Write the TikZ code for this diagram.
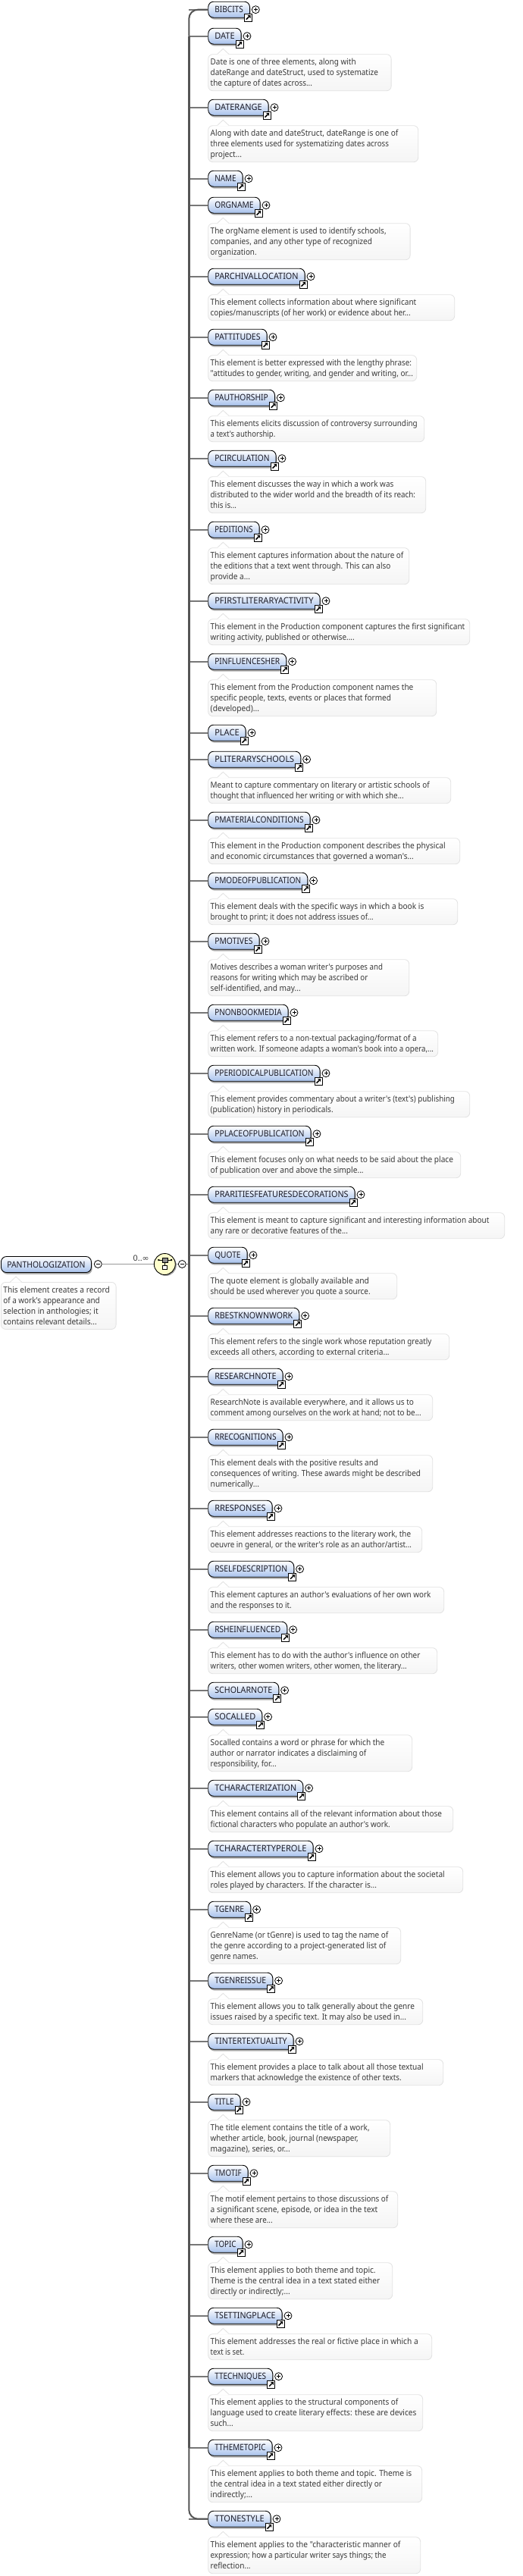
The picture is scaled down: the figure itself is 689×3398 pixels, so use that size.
\documentclass[tikz,border=0pt]{standalone}
\usepackage{fontspec}
\usetikzlibrary{shadows,calc}
\newfontfamily\labelfont{Noto Sans}
\newfontfamily\symfont{DejaVu Sans}
\definecolor{trunkc}{HTML}{555555}
\definecolor{stubc}{HTML}{777777}
\definecolor{boxblue}{HTML}{A8C2EC}
\definecolor{noteline}{HTML}{E2E2E2}
\definecolor{notefill}{HTML}{F5F5F5}
\definecolor{notetext}{HTML}{3A3A3A}
\definecolor{labeltext}{HTML}{1C1C28}
\definecolor{seqfill}{HTML}{FFFFCC}
\tikzset{
  elembox/.style={rectangle, rounded corners=7pt, draw=black, line width=.9pt,
    top color=white, bottom color=boxblue, minimum height=21pt, inner sep=0pt,
    text height=8.3pt, text depth=0pt, text=labeltext,
    font=\labelfont\fontsize{11.5}{14}\selectfont,
    drop shadow={shadow xshift=1.2pt, shadow yshift=-2.4pt, fill=black!55, opacity=.6}},
  notebox/.style={rectangle, rounded corners=6pt, draw=noteline, line width=.8pt,
    top color=white, bottom color=notefill, inner ysep=0pt, inner xsep=3pt, anchor=north west,
    text=notetext, font=\labelfont\fontsize{11}{14}\selectfont},
  linkicon/.style={rectangle, draw=black, fill=white, line width=.9pt, minimum size=10pt, inner sep=0pt,
    path picture={\begin{scope}[shift={(path picture bounding box.center)}]
      \draw[black, line width=1.5pt] (-2.5pt,-2.5pt) -- (1pt,1pt);
      \fill[black] (3.2pt,3.2pt) -- (3.2pt,-.8pt) -- (-.8pt,3.2pt) -- cycle;
    \end{scope}}},
  roundmark/.style={circle, draw=black, fill=white, line width=.8pt, minimum size=10pt, inner sep=0pt},
  plusmark/.style={roundmark,
    path picture={\begin{scope}[shift={(path picture bounding box.center)}]
      \draw[black, line width=.7pt] (-2.5pt,0pt) -- (2.5pt,0pt) (0pt,-2.5pt) -- (0pt,2.5pt);
    \end{scope}}},
  minusmark/.style={roundmark,
    path picture={\begin{scope}[shift={(path picture bounding box.center)}]
      \draw[black, line width=.7pt] (-2.5pt,0pt) -- (2.5pt,0pt);
    \end{scope}}},
  stub/.style={draw=stubc, line width=1.8pt},
  trunkline/.style={draw=trunkc, line width=3pt},
  trunkend/.style={draw=trunkc, line width=2pt, rounded corners=12pt},
  thinlink/.style={draw=black!40, line width=.7pt},
  seqbox/.style={circle, draw=black, fill=seqfill, line width=.9pt, minimum size=28pt, inner sep=0pt,
    drop shadow={shadow xshift=1.5pt, shadow yshift=-1.5pt, fill=black!60, opacity=.6}}
}
\newcommand\ntline[2]{\pgfmathsetmacro\lw{(#2-142)/3}\hbox{\vrule height 10pt depth 4pt width 0pt\resizebox{\lw pt}{\height}{#1}}}
\newcommand\elem[4]{%
  \pgfmathsetmacro\bw{#3-274.3}\pgfmathsetmacro\tw{\bw-17}%
  \node[elembox, minimum width=\bw pt, anchor=west] (#1) at (274.3,#4) {\resizebox{\tw pt}{\height}{#2}};
  \draw[stub] (trunk|-#1.west) -- (#1.west);
  \node[linkicon] (#1i) at ($(#3-1.7,#4+10.5)$) {};
  \node[plusmark] (#1p) at ($(#3+8.3,#4)$) {};
}
\def\notegap{23.6pt}
\newcommand\notenode[6]{%
  \pgfmathsetmacro\nw{#4-#3-6}%
  \node[notebox, minimum width=\nw pt+6pt] (#1) at ([yshift=-\notegap]#2.west)
    {\vbox{\baselineskip=14pt\lineskiplimit=-100pt\lineskip=0pt\hrule width \nw pt height 0pt\kern3.7pt #6\kern2.3pt}};
  \fill[white] ($(#1.north west)+(12.5,.6)$) -- ($(#1.north west)+(20,-7)$) -- ($(#1.north west)+(27.5,.6)$) -- cycle;
  \draw[noteline, line width=.8pt] ($(#1.north west)+(12.5,0)$) -- ($(#1.north west)+(20,-7)$) -- ($(#1.north west)+(27.5,0)$);
}
\newcommand\nn[5]{\notenode{#1n}{#1}{274.3}{#2}{#3}{#4}}
\begin{document}
\begin{tikzpicture}[x=1pt,y=-1pt]
\useasboundingbox (0,0) rectangle (689,3398);
\fill[white] (0,0) rectangle (689,3398);
\coordinate (trunk) at (249.3,0);

% root
\node[elembox, minimum width=119pt, anchor=west] (root) at (1,1668) {\resizebox{103.3pt}{\height}{PANTHOLOGIZATION}};
\node[minusmark] (rootm) at (129.3,1667.5) {};
\node[seqbox] (seq) at (217.3,1667.5) {};
\node[minusmark] (seqm) at (240.3,1667.5) {};
\draw[thinlink] (rootm.east) -- (seq.west);
\draw[thinlink] (seq.east) -- (seqm.west);
\draw[stub] (seqm.east) -- (trunk|-seqm.east);
\node[inner sep=0pt, text=notetext, font=\labelfont\fontsize{10.5}{12}\selectfont] (card) at (186.2,1660) {\resizebox{21pt}{\height}{0..{\symfont ∞}}};
\begin{scope}[shift={(seq.center)}]
  \draw[black, line width=.8pt] (-8,-5.3) -- (8.7,-5.3);
  \fill[black] (-9,-6.3) rectangle (-7,-4.3) (7.7,-6.3) rectangle (9.7,-4.3);
  \draw[black, line width=.7pt] (.3,-2.6) -- (.3,1.4);
  \draw[black, fill=black!45, line width=.6pt] (-3.3,-8) rectangle (4,-2.6);
  \draw[black, fill=white, line width=.8pt] (-2.6,1.4) rectangle (3.4,7);
\end{scope}
\def\notegap{23pt}
\notenode{rootn}{root}{1}{152.7}{4}{%
  \ntline{This element creates a record}{563}
  \ntline{of a work's appearance and}{524}
  \ntline{selection in anthologies; it}{518}
  \ntline{contains relevant details...}{512}}
\def\notegap{23.6pt}

% trunk
\elem{bibcits}{BIBCITS}{329}{12.7}
\elem{date}{DATE}{317.7}{47.7}
\nn{date}{515.7}{3}{\ntline{Date is one of three elements, along with}{718}
  \ntline{dateRange and dateStruct, used to systematize}{806}
  \ntline{the capture of dates across...}{545}}{}
\elem{daterange}{DATERANGE}{353.7}{141.7}
\nn{daterange}{551.3}{3}{\ntline{Along with date and dateStruct, dateRange is one of}{885}
  \ntline{three elements used for systematizing dates across}{848}
  \ntline{project...}{266}}{}
\elem{name}{NAME}{319.7}{235.7}
\elem{orgname}{ORGNAME}{342.7}{270.7}
\nn{orgname}{540.7}{3}{\ntline{The orgName element is used to identify schools,}{838}
  \ntline{companies, and any other type of recognized}{782}
  \ntline{organization.}{325}}{}
\elem{parchival}{PARCHIVALLOCATION}{401.7}{364.7}
\nn{parchival}{599.3}{2}{\ntline{This element collects information about where significant}{957}
  \ntline{copies/manuscripts (of her work) or evidence about her...}{934}}{}
\elem{pattitudes}{PATTITUDES}{351.7}{444.7}
\nn{pattitudes}{549.3}{2}{\ntline{This element is better expressed with the lengthy phrase:}{938}
  \ntline{"attitudes to gender, writing, and gender and writing, or...}{944}}{}
\elem{pauthorship}{PAUTHORSHIP}{362}{524.7}
\nn{pauthorship}{559.3}{2}{\ntline{This elements elicits discussion of controversy surrounding}{961}
  \ntline{a text's authorship.}{399}}{}
\elem{pcirculation}{PCIRCULATION}{363.7}{604.7}
\nn{pcirculation}{561.3}{3}{\ntline{This element discusses the way in which a work was}{867}
  \ntline{distributed to the wider world and the breadth of its reach:}{953}
  \ntline{this is...}{245}}{}
\elem{peditions}{PEDITIONS}{341.7}{698.7}
\nn{peditions}{539.3}{3}{\ntline{This element captures information about the nature of}{906}
  \ntline{the editions that a text went through. This can also}{855}
  \ntline{provide a...}{299}}{}
\elem{pfirst}{PFIRSTLITERARYACTIVITY}{421.7}{792.7}
\nn{pfirst}{619.3}{2}{\ntline{This element in the Production component captures the first significant}{1149}
  \ntline{writing activity, published or otherwise....}{712}}{}
\elem{pinfluences}{PINFLUENCESHER}{377.3}{872.7}
\nn{pinfluences}{575.3}{3}{\ntline{This element from the Production component names the}{945}
  \ntline{specific people, texts, events or places that formed}{857}
  \ntline{(developed)...}{335}}{}
\elem{place}{PLACE}{323.7}{966.7}
\elem{pliterary}{PLITERARYSCHOOLS}{396.3}{1001.7}
\nn{pliterary}{594.3}{2}{\ntline{Meant to capture commentary on literary or artistic schools of}{1009}
  \ntline{thought that influenced her writing or with which she...}{907}}{}
\elem{pmaterial}{PMATERIALCONDITIONS}{408.7}{1081.7}
\nn{pmaterial}{606.3}{2}{\ntline{This element in the Production component describes the physical}{1072}
  \ntline{and economic circumstances that governed a woman's...}{946}}{}
\elem{pmode}{PMODEOFPUBLICATION}{405.3}{1161.7}
\nn{pmode}{603.3}{2}{\ntline{This element deals with the specific ways in which a book is}{987}
  \ntline{brought to print; it does not address issues of...}{787}}{}
\elem{pmotives}{PMOTIVES}{341.7}{1241.7}
\nn{pmotives}{539.3}{3}{\ntline{Motives describes a woman writer's purposes and}{824}
  \ntline{reasons for writing which may be ascribed or}{765}
  \ntline{self-identified, and may...}{499}}{}
\elem{pnonbook}{PNONBOOKMEDIA}{379.7}{1335.7}
\nn{pnonbook}{577.3}{2}{\ntline{This element refers to a non-textual packaging/format of a}{958}
  \ntline{written work. If someone adapts a woman's book into a opera,...}{1025}}{}
\elem{pperiodical}{PPERIODICALPUBLICATION}{421.7}{1415.7}
\nn{pperiodical}{619.3}{2}{\ntline{This element provides commentary about a writer's (text's) publishing}{1109}
  \ntline{(publication) history in periodicals.}{628}}{}
\elem{pplaceof}{PPLACEOFPUBLICATION}{409.7}{1495.7}
\nn{pplaceof}{607.3}{2}{\ntline{This element focuses only on what needs to be said about the place}{1103}
  \ntline{of publication over and above the simple...}{748}}{}
\elem{prarities}{PRARITIESFEATURESDECORATIONS}{467.7}{1575.7}
\nn{prarities}{665.3}{2}{\ntline{This element is meant to capture significant and interesting information about}{1245}
  \ntline{any rare or decorative features of the...}{686}}{}
\elem{quote}{QUOTE}{325.7}{1655.7}
\nn{quote}{523.3}{2}{\ntline{The quote element is globally available and}{770}
  \ntline{should be used wherever you quote a source.}{775}}{}
\elem{rbest}{RBESTKNOWNWORK}{394.3}{1735.7}
\nn{rbest}{592.3}{2}{\ntline{This element refers to the single work whose reputation greatly}{1017}
  \ntline{exceeds all others, according to external criteria...}{850}}{}
\elem{research}{RESEARCHNOTE}{372.7}{1815.7}
\nn{research}{570.3}{2}{\ntline{ResearchNote is available everywhere, and it allows us to}{947}
  \ntline{comment among ourselves on the work at hand; not to be...}{976}}{}
\elem{rrecog}{RRECOGNITIONS}{372.7}{1895.7}
\nn{rrecog}{570.3}{3}{\ntline{This element deals with the positive results and}{806}
  \ntline{consequences of writing. These awards might be described}{974}
  \ntline{numerically...}{335}}{}
\elem{rresponses}{RRESPONSES}{358.7}{1989.7}
\nn{rresponses}{556.3}{2}{\ntline{This element addresses reactions to the literary work, the}{935}
  \ntline{oeuvre in general, or the writer's role as an author/artist...}{938}}{}
\elem{rself}{RSELFDESCRIPTION}{387.3}{2069.7}
\nn{rself}{585.3}{2}{\ntline{This element captures an author's evaluations of her own work}{1014}
  \ntline{and the responses to it.}{463}}{}
\elem{rshe}{RSHEINFLUENCED}{378.3}{2149.7}
\nn{rshe}{576.3}{2}{\ntline{This element has to do with the author's influence on other}{972}
  \ntline{writers, other women writers, other women, the literary...}{919}}{}
\elem{scholar}{SCHOLARNOTE}{367.3}{2229.7}
\elem{socalled}{SOCALLED}{345.3}{2264.7}
\nn{socalled}{543.3}{3}{\ntline{Socalled contains a word or phrase for which the}{831}
  \ntline{author or narrator indicates a disclaiming of}{759}
  \ntline{responsibility, for...}{403}}{}
\elem{tcharz}{TCHARACTERIZATION}{399.3}{2358.7}
\nn{tcharz}{597.3}{2}{\ntline{This element contains all of the relevant information about those}{1058}
  \ntline{fictional characters who populate an author's work.}{853}}{}
\elem{tchart}{TCHARACTERTYPEROLE}{412.7}{2438.7}
\nn{tchart}{610.3}{2}{\ntline{This element allows you to capture information about the societal}{1069}
  \ntline{roles played by characters. If the character is...}{800}}{}
\elem{tgenre}{TGENRE}{330.3}{2518.7}
\nn{tgenre}{528.3}{3}{\ntline{GenreName (or tGenre) is used to tag the name of}{846}
  \ntline{the genre according to a project-generated list of}{837}
  \ntline{genre names.}{331}}{}
\elem{tgenreissue}{TGENREISSUE}{359.3}{2612.7}
\nn{tgenreissue}{557.3}{2}{\ntline{This element allows you to talk generally about the genre}{950}
  \ntline{issues raised by a specific text. It may also be used in...}{917}}{}
\elem{tinter}{TINTERTEXTUALITY}{386.7}{2692.7}
\nn{tinter}{584.3}{2}{\ntline{This element provides a place to talk about all those textual}{985}
  \ntline{markers that acknowledge the existence of other texts.}{898}}{}
\elem{title}{TITLE}{316.7}{2772.7}
\nn{title}{514.3}{3}{\ntline{The title element contains the title of a work,}{772}
  \ntline{whether article, book, journal (newspaper,}{727}
  \ntline{magazine), series, or...}{457}}{}
\elem{tmotif}{TMOTIF}{326.7}{2866.7}
\nn{tmotif}{524.3}{3}{\ntline{The motif element pertains to those discussions of}{846}
  \ntline{a significant scene, episode, or idea in the text}{804}
  \ntline{where these are...}{388}}{}
\elem{topic}{TOPIC}{319.7}{2960.7}
\nn{topic}{517.3}{3}{\ntline{This element applies to both theme and topic.}{796}
  \ntline{Theme is the central idea in a text stated either}{813}
  \ntline{directly or indirectly;...}{457}}{}
\elem{tsetting}{TSETTINGPLACE}{371.7}{3054.7}
\nn{tsetting}{569.3}{2}{\ntline{This element addresses the real or fictive place in which a}{964}
  \ntline{text is set.}{276}}{}
\elem{ttech}{TTECHNIQUES}{359.3}{3134.7}
\nn{ttech}{557.3}{3}{\ntline{This element applies to the structural components of}{885}
  \ntline{language used to create literary effects: these are devices}{957}
  \ntline{such...}{232}}{}
\elem{ttheme}{TTHEMETOPIC}{358.7}{3228.7}
\nn{ttheme}{556.3}{3}{\ntline{This element applies to both theme and topic. Theme is}{939}
  \ntline{the central idea in a text stated either directly or}{821}
  \ntline{indirectly;...}{308}}{}
\elem{ttone}{TTONESTYLE}{356.7}{3322.7}
\nn{ttone}{554.3}{3}{\ntline{This element applies to the "characteristic manner of}{894}
  \ntline{expression; how a particular writer says things; the}{838}
  \ntline{reflection...}{301}}{}

\draw[trunkend] (trunk|-date.west) |- (bibcits.west);
\draw[trunkend] (trunk|-ttheme.west) |- (ttone.west);
\draw[trunkline] (trunk|-date.west) -- (trunk|-ttheme.west);
\end{tikzpicture}
\end{document}
